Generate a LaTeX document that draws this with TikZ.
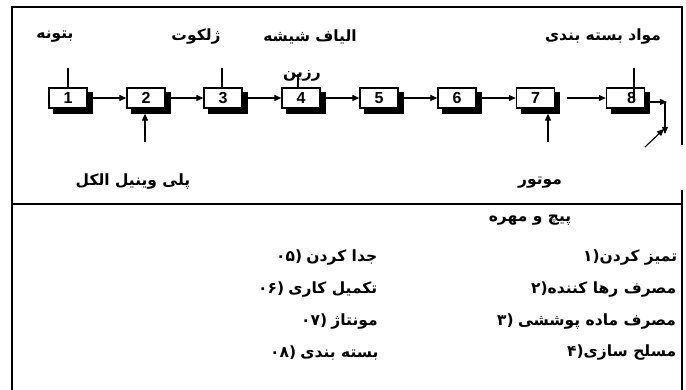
\documentclass[tikz,border=0pt]{standalone}
\usepackage{fontspec}
\setmainfont{Liberation Sans}
\newfontfamily\fa[Script=Arabic]{DejaVu Sans}
\newfontfamily\fad{DejaVu Sans}
\TeXXeTstate=1
\usetikzlibrary{arrows.meta,backgrounds}
\newcommand\lpre{\textcolor{white}{.}\kern-0.278em\hskip0pt\relax}
\tikzset{
  box/.style={draw, line width=1.3pt, fill=white, minimum width=38pt, minimum height=20pt,
    inner sep=0pt, font=\bfseries\fontsize{16}{16}\selectfont},
  lbl/.style={inner sep=0pt, font=\fa\bfseries\fontsize{15.5}{17}\selectfont},
  leg/.style={inner sep=0pt, anchor=west, font=\bfseries\fontsize{15.5}{17}\selectfont},
  flow/.style={line width=1.1pt, -{Triangle[length=7pt,width=6pt]}},
  tick/.style={line width=1.1pt},
  frame/.style={line width=1.3pt}
}
\begin{document}
\begin{tikzpicture}[x=1pt,y=-1pt]
\useasboundingbox (0,0) rectangle (686,390);
% frame
\draw[frame] (12,390) -- (12,7) -- (682,7) -- (682,145);
\draw[frame] (682,190) -- (682,390);
\draw[frame] (12,204) -- (682,204);
% boxes
\node[box] (b1) at (68,98) {1};
\node[box] (b2) at (146,98) {2};
\node[box] (b3) at (223,98) {3};
\node[box] (b4) at (301,98) {4};
\node[box] (b5) at (379,98) {5};
\node[box] (b6) at (457,98) {6};
\node[box] (b7) at (535.5,98) {7};
\node[box] (b8) at (625.5,98) {\hspace*{12pt}8};
\begin{scope}[on background layer]
\foreach \n in {b1,b2,b3,b4,b5,b6,b7,b8}
  \fill ([shift={(5pt,-5pt)}]\n.south west) rectangle ([shift={(5pt,-5pt)}]\n.north east);
\end{scope}
% flow arrows
\draw[flow, shorten <=5pt] (b1) -- (b2);
\draw[flow, shorten <=5pt] (b2) -- (b3);
\draw[flow, shorten <=5pt] (b3) -- (b4);
\draw[flow, shorten <=5pt] (b4) -- (b5);
\draw[flow, shorten <=5pt] (b5) -- (b6);
\draw[flow, shorten <=5pt] (b6) -- (b7);
\draw[flow, shorten <=12pt] (b7) -- (b8);
% top labels
\node[lbl] (lbetune) at (55,37) {\beginR بتونه\endR};
\node[lbl] (ljelcoat) at (196,37) {\beginR ژلکوت\endR};
\node[lbl] (lfiber) at (310,37) {\beginR الیاف شیشه\endR};
\node[lbl] (lresin) at (302,76) {\beginR رزین\endR};
\node[lbl] (lpack) at (603,37) {\beginR مواد بسته بندی\endR};
\coordinate (t1) at (68,68);
\coordinate (t3) at (222,68);
\coordinate (t4) at (298,74);
\coordinate (t8) at (634,68);
\coordinate (e8) at (634,98);
\draw[tick] (t1) -- (b1.north);
\draw[tick] (t3) -- (t3 |- b3.north);
\draw[tick] (t4) -- (t4 |- b4.north);
\draw[tick] (t8) -- (e8);
% bottom inputs
\node[lbl] (lpva) at (133,182) {\beginR پلی وینیل الکل\endR};
\node[lbl] (lmotor) at (540,183) {\beginR موتور\endR};
\coordinate (s2) at (145,142);
\coordinate (s7) at (548,142);
\draw[flow, shorten >=5pt] (s2) -- (s2 |- b2.south);
\draw[flow, shorten >=5pt] (s7) -- (s7 |- b7.south);
% output of box 8
\coordinate (o1) at (650,102);
\coordinate (o2) at (667,102);
\coordinate (o3) at (665,102);
\coordinate (o4) at (665,134);
\coordinate (d1) at (645,147);
\coordinate (d2) at (664,129);
\draw[flow] (o1) -- (o2);
\draw[flow] (o3) -- (o4);
\draw[flow] (d1) -- (d2);
% legend
\node[lbl] (lbolt) at (530,220) {\beginR پیچ و مهره\endR};
\node[leg] (r1) at (583,258) {\lpre\beginR{\fa تمیز کردن}{\fad ۱)}\endR};
\node[leg] (r2) at (531,290) {\lpre\beginR{\fa مصرف رها کننده}{\fad ۲)}\endR};
\node[leg] (r3) at (497,322) {\lpre\beginR{\fa مصرف ماده پوششی} {\fad ۳)}\endR};
\node[leg] (r4) at (567,353) {\lpre\beginR{\fa مسلح سازی}{\fad ۴)}\endR};
\node[leg] (l5) at (276,258) {\lpre\beginR{\fa جدا کردن} {\fad ۰۵)}\endR};
\node[leg] (l6) at (258,290) {\lpre\beginR{\fa تکمیل کاری} {\fad ۰۶)}\endR};
\node[leg] (l7) at (301,322) {\lpre\beginR{\fa مونتاژ} {\fad ۰۷)}\endR};
\node[leg] (l8) at (270,353) {\lpre\beginR{\fa بسته بندی} {\fad ۰۸)}\endR};
\end{tikzpicture}
\end{document}
